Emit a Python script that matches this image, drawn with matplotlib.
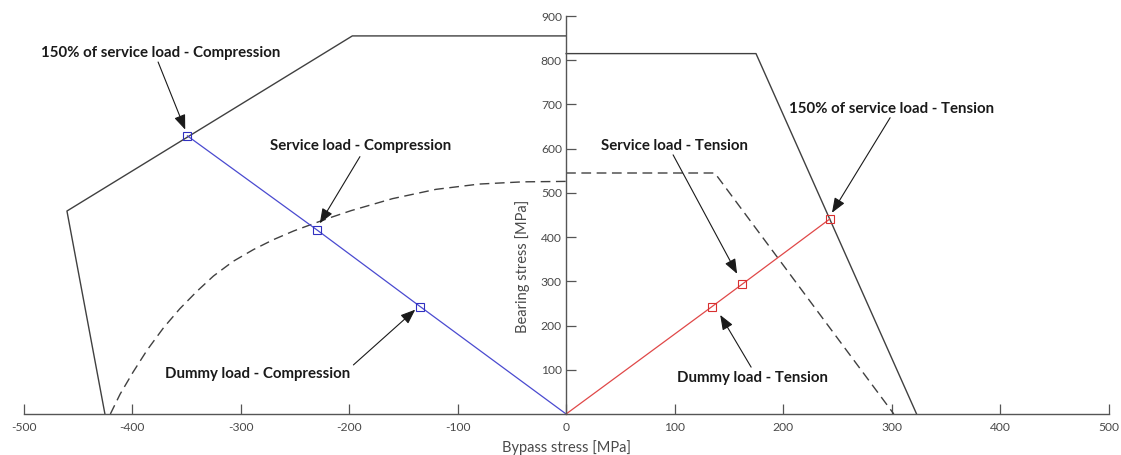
import matplotlib
matplotlib.use('Agg')
import matplotlib.pyplot as plt

# failure envelope, compression side (solid)
env_comp_x = [-425, -460, -197, 0]
env_comp_y = [0, 459, 855, 855]
# failure envelope, tension side (solid)
env_tens_x = [0, 175, 323]
env_tens_y = [815, 815, 0]

# dashed envelopes
dash_comp_x = [-420, -411, -399, -386, -371, -356, -340, -325, -307, -288, -270,
               -251, -230, -215, -198, -160, -120, -80, -40, 0]
dash_comp_y = [0, 45, 95, 145, 195, 238, 278, 312, 345, 372, 394,
               414, 433, 446, 460, 487, 508, 520, 525, 526]
dash_tens_x = [0, 137, 302]
dash_tens_y = [545, 545, 0]

# load points
comp_x = [0, -134.5, -230, -349]
comp_y = [0, 243, 417, 629]
tens_x = [0, 134.5, 162.5, 243]
tens_y = [0, 243, 294, 441]

# annotations: label, text pos, arrow start, arrow tip
notes = [
    ('150% of service load - Compression', (-374, 817), (-376, 796), (-351, 643)),
    ('Service load - Compression', (-189, 606), (-190, 582), (-227, 431)),
    ('Dummy load - Compression', (-284, 90), (-196, 111), (-139, 236)),
    ('Service load - Tension', (99.5, 606), (98.6, 586), (157.6, 317)),
    ('150% of service load - Tension', (300, 690), (298.6, 670), (245, 455)),
    ('Dummy load - Tension', (172, 81), (170.5, 106), (142, 224)),
]

plt.rcParams['font.family'] = ['Lato', 'DejaVu Sans']

fig = plt.figure(figsize=(11.21, 4.55), dpi=100)
ax = fig.add_axes([0.021, 0.0901, 0.968, 0.8747])

grey = '#404040'
ax.plot(env_comp_x, env_comp_y, color=grey, lw=1.0)
ax.plot(env_tens_x, env_tens_y, color=grey, lw=1.0)
ax.plot(dash_comp_x, dash_comp_y, color=grey, lw=1.0, ls=(0, (7, 4)))
ax.plot(dash_tens_x, dash_tens_y, color=grey, lw=1.0, ls=(0, (7, 4)))

ax.plot(comp_x, comp_y, color='#4a4ad0', lw=0.9)
ax.plot(comp_x[1:], comp_y[1:], ls='none', marker='s', ms=5.5, mfc='none',
        mec='#3030c0', mew=0.8)
ax.plot(tens_x, tens_y, color='#e04848', lw=0.9)
ax.plot(tens_x[1:], tens_y[1:], ls='none', marker='s', ms=5.5, mfc='none',
        mec='#d83030', mew=0.8)

for label, tpos, start, tip in notes:
    ax.text(tpos[0], tpos[1], label, ha='center', va='center',
            fontsize=10.8, fontweight='bold', color='#1a1a1a')
    ax.annotate('', xy=tip, xytext=start,
                arrowprops=dict(arrowstyle='-|>,head_length=0.9,head_width=0.35',
                                color='#1a1a1a', lw=0.8, shrinkA=0, shrinkB=0))

ax.set_xlim(-500, 500)
ax.set_ylim(0, 900)
ax.spines['left'].set_position(('data', 0))
ax.spines['top'].set_visible(False)
ax.spines['right'].set_visible(False)
for s in ('left', 'bottom'):
    ax.spines[s].set_color('#555555')
    ax.spines[s].set_linewidth(1.0)

ax.set_xticks(range(-500, 501, 100))
ax.set_xticklabels([str(v) for v in range(-500, 501, 100)])
ax.set_yticks(range(100, 901, 100))
ax.tick_params(direction='in', length=7, width=0.9, color='#555555',
               labelcolor='#4a4a4a', labelsize=8.7)
ax.tick_params(axis='x', pad=6)
ax.tick_params(axis='y', pad=3)

ax.set_xlabel('Bypass stress [MPa]', fontsize=10.5, color='#4a4a4a')
ax.set_ylabel('Bearing stress [MPa]', fontsize=10.5, color='#4a4a4a')
ax.xaxis.set_label_coords(0.5, -0.083)
ax.xaxis.label.set_va('center')
ax.yaxis.set_label_coords(0.4595, 0.372)
ax.yaxis.label.set_va('center')

fig.savefig('out.png', dpi=100)
